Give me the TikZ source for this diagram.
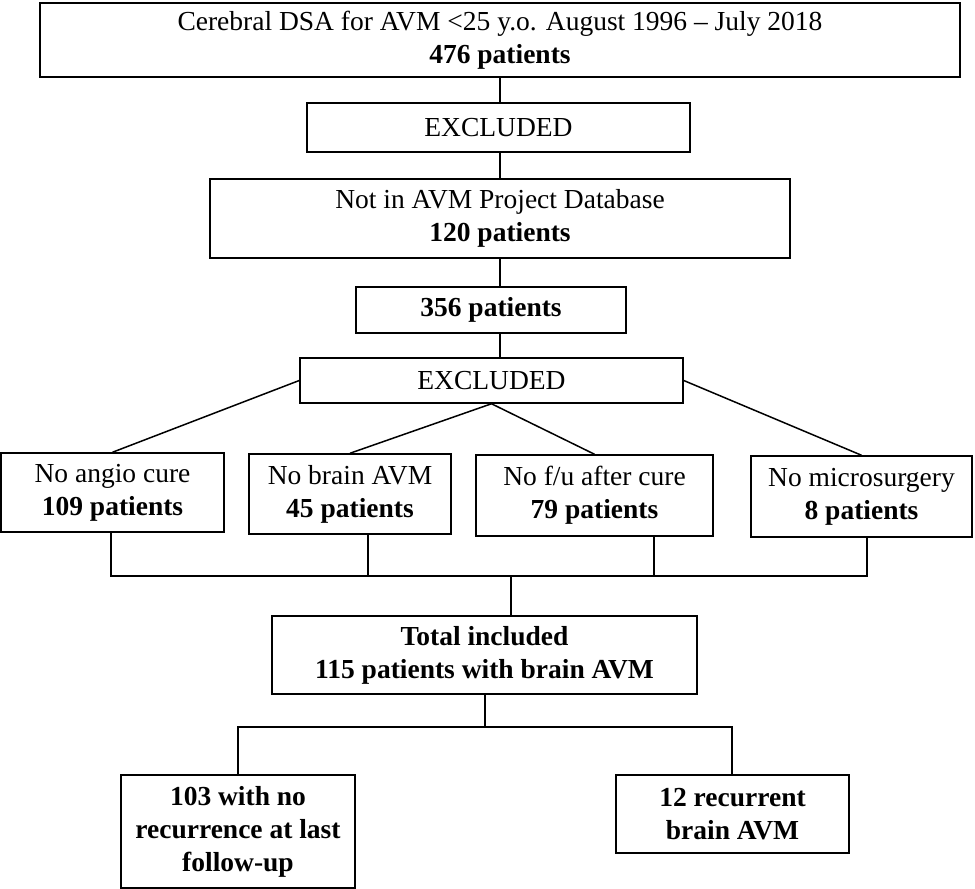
\documentclass[tikz,border=0pt]{standalone}
\usepackage{fontspec}
\setmainfont{Liberation Serif}
\tikzset{
	flowbox/.style={draw, line width=1.5pt, align=center, inner sep=0pt, font=\fontsize{27.5}{33}\selectfont},
	link/.style={line width=1.5pt}
}
\begin{document}
\begin{tikzpicture}[x=1pt, y=-1pt]
	\useasboundingbox (0,0) rectangle (975,889);
	% screening
	\node[flowbox, minimum width=920, minimum height=74] (dsa) at (500,40) {Cerebral DSA for AVM <25 y.o. August 1996 -- July 2018\\\textbf{476 patients}};
	\node[flowbox, minimum width=383, minimum height=49] (exclA) at (498.5,127.5) {EXCLUDED};
	\node[flowbox, minimum width=580, minimum height=79] (notdb) at (500,218.5) {Not in AVM Project Database\\\textbf{120 patients}};
	\node[flowbox, minimum width=270, minimum height=46] (remain) at (491,310) {\textbf{356 patients}};
	\node[flowbox, minimum width=383, minimum height=45] (exclB) at (491.5,380.5) {EXCLUDED};
	% exclusion reasons
	\node[flowbox, minimum width=223, minimum height=79] (angio) at (112.5,492.5) {No angio cure\\\textbf{109 patients}};
	\node[flowbox, minimum width=202, minimum height=80] (nobrain) at (350,494) {No brain AVM\\\textbf{45 patients}};
	\node[flowbox, minimum width=237, minimum height=81] (nofu) at (594.5,495.5) {No f/u after cure\\\textbf{79 patients}};
	\node[flowbox, minimum width=221, minimum height=81] (nosurg) at (861.5,496.5) {No microsurgery\\\textbf{8 patients}};
	% included
	\node[flowbox, minimum width=425, minimum height=78, font=\fontsize{27.5}{33}\selectfont\bfseries] (total) at (484.5,655) {Total included\\115 patients with brain AVM};
	\node[flowbox, minimum width=234, minimum height=113, font=\fontsize{27.5}{33}\selectfont\bfseries] (norec) at (238,831.5) {103 with no\\recurrence at last\\follow-up};
	\node[flowbox, minimum width=233, minimum height=78, font=\fontsize{27.5}{33}\selectfont\bfseries] (recur) at (732.5,814) {12 recurrent\\brain AVM};

	\coordinate (busA) at (111,576);
	\coordinate (busB) at (368,576);
	\coordinate (busC) at (654,576);
	\coordinate (busD) at (867,576);
	\coordinate (busM) at (511,576);
	\coordinate (splitL) at (238,727);
	\coordinate (splitM) at (485,727);
	\coordinate (splitR) at (732,727);

	\draw[link] (dsa.south) -- (dsa.south |- exclA.north);
	\draw[link] (dsa.south |- exclA.south) -- (notdb.north);
	\draw[link] (notdb.south) -- (notdb.south |- remain.north);
	\draw[link] (notdb.south |- remain.south) -- (notdb.south |- exclB.north);
	\draw[link] (exclB.west) -- (angio.north);
	\draw[link] (exclB.south) -- (nobrain.north);
	\draw[link] (exclB.south) -- (nofu.north);
	\draw[link] (exclB.east) -- (nosurg.north);
	\draw[link] (angio.south -| busA) -- (busA) -- (busD) -- (nosurg.south -| busD);
	\draw[link] (nobrain.south -| busB) -- (busB);
	\draw[link] (nofu.south -| busC) -- (busC);
	\draw[link] (busM) -- (total.north -| busM);
	\draw[link] (total.south -| splitM) -- (splitM);
	\draw[link] (norec.north) -- (splitL) -- (splitR) -- (recur.north -| splitR);
\end{tikzpicture}
\end{document}
